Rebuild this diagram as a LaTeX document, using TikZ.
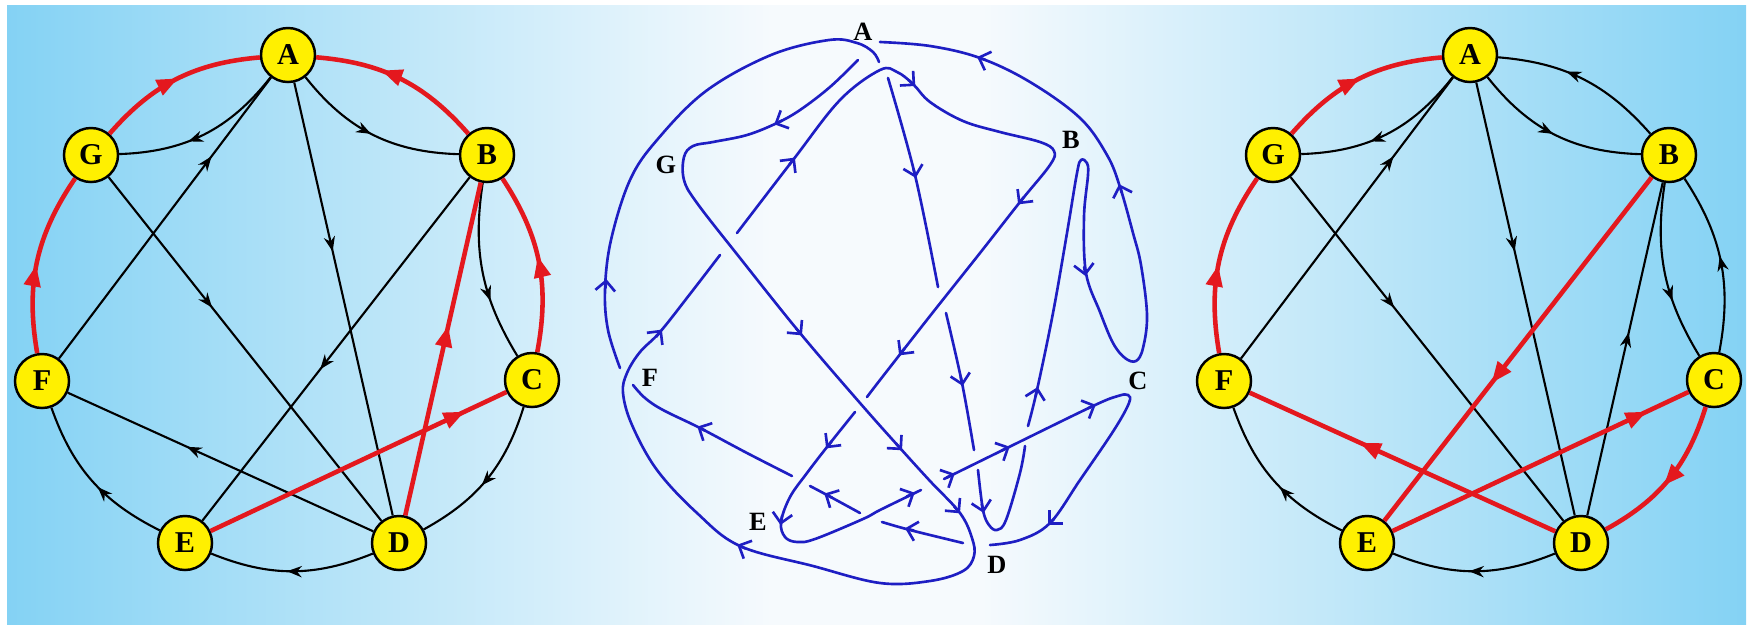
\documentclass[tikz,border=0pt]{standalone}
\usepackage{fontspec}
\setmainfont{Liberation Serif}
\usetikzlibrary{arrows.meta,decorations.markings}

\definecolor{sky}{RGB}{132,210,244}
\definecolor{haze}{RGB}{246,250,253}
\definecolor{vtxyellow}{RGB}{255,240,0}
\definecolor{treered}{RGB}{228,24,30}
\definecolor{tourblue}{RGB}{30,30,195}

\pgfdeclarehorizontalshading{panels}{100bp}{color(0bp)=(sky); color(25bp)=(sky); color(47bp)=(haze); color(53bp)=(haze); color(75bp)=(sky); color(100bp)=(sky)}

\tikzset{
  vtx/.style={circle,draw,line width=0.7pt,fill=vtxyellow,minimum size=0.54cm,inner sep=0pt,
    font=\fontsize{8.6}{9}\selectfont\bfseries},
  lbl/.style={inner sep=0pt,font=\fontsize{7.5}{9}\selectfont\bfseries},
  blackedge/.style={line width=0.6pt,postaction={decorate,decoration={markings,
    mark=at position #1 with {\arrow{Stealth[length=4.2pt,width=3.2pt]}}}}},
  rededge/.style={treered,line width=1.3pt,postaction={decorate,decoration={markings,
    mark=at position #1 with {\arrow{Triangle[length=6pt,width=4.6pt]}}}}},
  tour/.style={tourblue,line width=0.75pt,line cap=round},
}
\newcommand\tourtip[3]{\draw[tour,-{Straight Barb[length=2.8pt,width=5.6pt]}] (#1,#2) ++(#3+180:6) -- ++(#3:9);}

\begin{document}
\begin{tikzpicture}[x=0.01cm,y=0.01cm]
\useasboundingbox (0,0) rectangle (1754,626);
\shade[shading=panels] (7,2) rectangle (1746,621);

\foreach \side/\dx in {l/0,r/1182}
  \foreach \n/\x/\y in {A/288/571,B/487/471,C/532/246,D/399/83,E/185/83,F/42/245,G/91/471}
    \node[vtx] (\side\n) at (\x+\dx,\y) {\n};

% left graph
\draw[blackedge=0.6] (lA) to[bend left=25] (lG);
\draw[blackedge=0.49] (lA) to[bend right=25] (lB);
\draw[blackedge=0.66] (lB) to[bend right=20] (lC);
\draw[blackedge=0.72] (lF) -- (lA);
\draw[blackedge=0.39] (lA) -- (lD);
\draw[blackedge=0.38] (lG) -- (lD);
\draw[blackedge=0.56] (lB) -- (lE);
\draw[blackedge=0.61] (lD) -- (lF);
\draw[blackedge=0.55] (lC) to[bend left=22] (lD);
\draw[blackedge=0.53] (lD) to[bend left=22] (lE);
\draw[blackedge=0.45] (lE) to[bend left=22] (lF);
\draw[rededge=0.48] (lF) to[bend left=22] (lG);
\draw[rededge=0.51] (lG) to[bend left=22] (lA);
\draw[rededge=0.62] (lB) to[bend right=22] (lA);
\draw[rededge=0.53] (lC) to[bend right=22] (lB);
\draw[rededge=0.57] (lD) -- (lB);
\draw[rededge=0.86] (lE) -- (lC);

% right graph
\draw[blackedge=0.6] (rA) to[bend left=25] (rG);
\draw[blackedge=0.49] (rA) to[bend right=25] (rB);
\draw[blackedge=0.66] (rB) to[bend right=20] (rC);
\draw[blackedge=0.72] (rF) -- (rA);
\draw[blackedge=0.39] (rA) -- (rD);
\draw[blackedge=0.38] (rG) -- (rD);
\draw[blackedge=0.55] (rD) -- (rB);
\draw[blackedge=0.6] (rB) to[bend right=22] (rA);
\draw[blackedge=0.53] (rC) to[bend right=22] (rB);
\draw[blackedge=0.53] (rD) to[bend left=22] (rE);
\draw[blackedge=0.45] (rE) to[bend left=22] (rF);
\draw[rededge=0.48] (rF) to[bend left=22] (rG);
\draw[rededge=0.51] (rG) to[bend left=22] (rA);
\draw[rededge=0.6] (rB) -- (rE);
\draw[rededge=0.86] (rE) -- (rC);
\draw[rededge=0.55] (rC) to[bend left=22] (rD);
\draw[rededge=0.64] (rD) -- (rF);

% middle: the tour
\begin{scope}[shift={(0,626)},yscale=-1]
\foreach \n/\x/\y in {A/863/32,B/1071/140,C/1138/381,D/997/565,E/758/522,F/650/378,G/666/165}
  \node[lbl] (m\n) at (\x,\y) {\n};

\draw[tour] plot[smooth,tension=0.6] coordinates {(737,233) (793,160) (840,100) (880,70) (897,72) (913,84) (930,102) (963,121) (1000,132) (1040,142) (1054,151) (1050,165) (1020,202) (980,253) (930,316) (880,380) (867,397)};
\draw[tour] plot[smooth,tension=0.6] coordinates {(855,412) (827,447) (807,473) (790,497) (781,522) (785,537) (797,542) (815,539) (863,519) (880,510) (921,490)};
\draw[tour] plot[smooth,tension=0.6] coordinates {(944,479) (1007,448) (1093,406) (1118,396) (1128,395) (1129,403) (1114,430) (1080,480) (1050,523) (1020,540) (990,545)};
\draw[tour] plot[smooth,tension=0.6] coordinates {(963,543) (910,530) (882,522)};
\draw[tour] plot[smooth,tension=0.6] coordinates {(860,513) (827,495) (810,486)};
\draw[tour] plot[smooth,tension=0.6] coordinates {(792,476) (747,453) (700,428) (663,410) (645,398) (633,385)};
\draw[tour] plot[smooth,tension=0.6] coordinates {(620,368) (608,330) (605,290) (611,240) (630,180) (657,140) (706,91) (771,55) (829,40) (857,43) (873,52) (879,62)};
\draw[tour] plot[smooth,tension=0.6] coordinates {(888,78) (915,175) (938,287)};
\draw[tour] plot[smooth,tension=0.6] coordinates {(946,313) (962,383) (974,450)};
\draw[tour] plot[smooth,tension=0.6] coordinates {(978,470) (983,510) (989,525) (997,530) (1006,520) (1020,473) (1025,446)};
\draw[tour] plot[smooth,tension=0.6] coordinates {(1028,426) (1037,390) (1053,313) (1067,233) (1077,173) (1081,160) (1087,163) (1088,175) (1084,217) (1086,273) (1100,312) (1113,343) (1125,358) (1136,361) (1143,348) (1147,315) (1141,265) (1133,233) (1120,187) (1107,155) (1080,118) (1030,82) (980,58) (930,46) (880,42)};
\draw[tour] plot[smooth,tension=0.6] coordinates {(858,60) (830,87) (800,110) (777,123) (747,135) (713,142) (693,146) (684,157) (684,180) (697,203) (740,258) (800,333) (860,403) (900,448) (930,481) (960,513) (972,538) (974,556) (963,571) (930,581) (880,583) (813,566) (740,546) (697,513) (657,470) (632,425) (623,393) (627,373) (640,352) (660,332) (690,294) (720,255)};

\tourtip{660}{332}{-52}
\tourtip{793}{160}{-52}
\tourtip{913}{84}{42}
\tourtip{1020}{202}{128}
\tourtip{901}{353}{128}
\tourtip{828}{446}{128}
\tourtip{781}{522}{100}
\tourtip{912}{494}{-26}
\tourtip{952}{475}{-26}
\tourtip{1007}{448}{-26}
\tourtip{1093}{406}{-24}
\tourtip{1050}{523}{135}
\tourtip{908}{529}{-165}
\tourtip{827}{495}{-152}
\tourtip{700}{428}{-153}
\tourtip{606}{282}{-85}
\tourtip{915}{175}{76}
\tourtip{962}{383}{78}
\tourtip{983}{510}{78}
\tourtip{1037}{390}{-77}
\tourtip{1085}{273}{82}
\tourtip{1120}{187}{-108}
\tourtip{980}{58}{-160}
\tourtip{777}{123}{155}
\tourtip{800}{333}{50}
\tourtip{900}{448}{48}
\tourtip{958}{511}{50}
\tourtip{740}{546}{-155}
\end{scope}
\end{tikzpicture}
\end{document}
